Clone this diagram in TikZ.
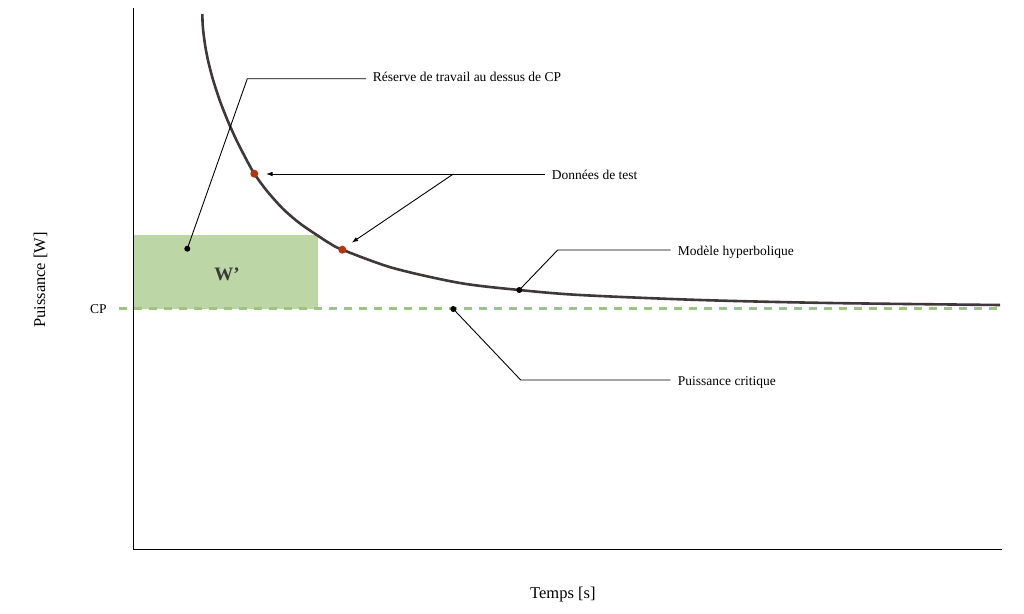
\documentclass[tikz,border=0pt]{standalone}
\usepackage{fontspec}
\setmainfont{Liberation Serif}
\usetikzlibrary{arrows.meta}
\definecolor{curvec}{HTML}{3F3838}
\definecolor{wfill}{HTML}{BDD6A5}
\definecolor{cpdash}{HTML}{9DC57F}
\definecolor{reddot}{HTML}{B5360E}
\definecolor{wtext}{HTML}{3A3A3A}
\tikzset{
  lbl/.style={font=\fontsize{13.5}{16}\selectfont, inner sep=0pt, anchor=base west},
  axlbl/.style={font=\fontsize{16.5}{19}\selectfont, inner sep=0pt, anchor=base west},
  leader/.style={draw=black, line width=0.9pt},
  arrowed/.style={leader, -{Latex[length=6.5pt,width=4.5pt]}},
  axisline/.style={draw=black, line width=1.5pt},
  bdot/.style={fill=black},
  rdot/.style={fill=reddot}
}
\begin{document}
\begin{tikzpicture}[x=1pt,y=-1pt]
\useasboundingbox (0,0) rectangle (1024,613);
% W' area
\fill[wfill] (133.3,235) rectangle (318.3,308.7);
% CP dashed line
\draw[cpdash, line width=3.5pt, dash pattern=on 7.5pt off 7.5pt] (119,308.7) -- (1002,308.7);
% axes
\draw[axisline] (133.3,8) -- (133.3,549.3) -- (1001.7,549.3);
% hyperbolic curve
\draw[curvec, line width=2.6pt] plot[smooth, tension=0.5] coordinates {
  (202.3,14) (202.7,25) (203.7,35) (205.9,50) (209.1,65) (213.1,80) (219.6,100)
  (227.4,120) (236.4,140) (246.6,160) (254.3,173.7) (265,188.5) (275,200.3)
  (285,210.8) (300,223.5) (318.3,236) (330,243.5) (342.3,249.7) (393,268)
  (460,283) (519.3,290) (580,295) (700,300) (830,303) (1000,305)};
% labels
\node[lbl] (reserve) at (372.7,81) {Réserve de travail au dessus de CP};
\node[lbl] (donnees) at (551.7,179.5) {Données de test};
\node[lbl] (modele) at (677.7,255) {Modèle hyperbolique};
\node[lbl] (critique) at (677.7,385) {Puissance critique};
\node[lbl] (cp) at (90,313.3) {CP};
\node[axlbl] (temps) at (530,598) {Temps [s]};
\node[axlbl, rotate=90] (puiss) at (45,328) {Puissance [W]};
\node[font=\bfseries\fontsize{19}{22}\selectfont, text=wtext, inner sep=0pt, anchor=base] (wprime) at (227,280) {W’};
% key points
\coordinate (pres) at (187.3,248.7);
\coordinate (pmod) at (519.3,290);
\coordinate (pcrit) at (453.3,309);
\coordinate (t1) at (254.3,173.7);
\coordinate (t2) at (342.3,249.7);
% bends and ends
\coordinate (bres) at (247.3,78.7);
\coordinate (eres) at (366,78.7);
\coordinate (edon) at (545,174);
\coordinate (bdon) at (453.3,174);
\coordinate (a1) at (266,174);
\coordinate (a2) at (351.7,242.7);
\coordinate (bmod) at (557.7,250);
\coordinate (emod) at (670.7,250);
\coordinate (bcrit) at (520.7,380);
\coordinate (ecrit) at (670.7,380);
% leaders
\draw[leader] (pres) -- (bres) -- (eres);
\draw[leader] (edon) -- (bdon);
\draw[arrowed] (bdon) -- (a1);
\draw[arrowed] (bdon) -- (a2);
\draw[leader] (pmod) -- (bmod) -- (emod);
\draw[leader] (pcrit) -- (bcrit) -- (ecrit);
% dots
\fill[bdot] (pres) circle (3pt);
\fill[bdot] (pmod) circle (3pt);
\fill[bdot] (pcrit) circle (3pt);
\fill[rdot] (t1) circle (4pt);
\fill[rdot] (t2) circle (4pt);
\end{tikzpicture}
\end{document}
